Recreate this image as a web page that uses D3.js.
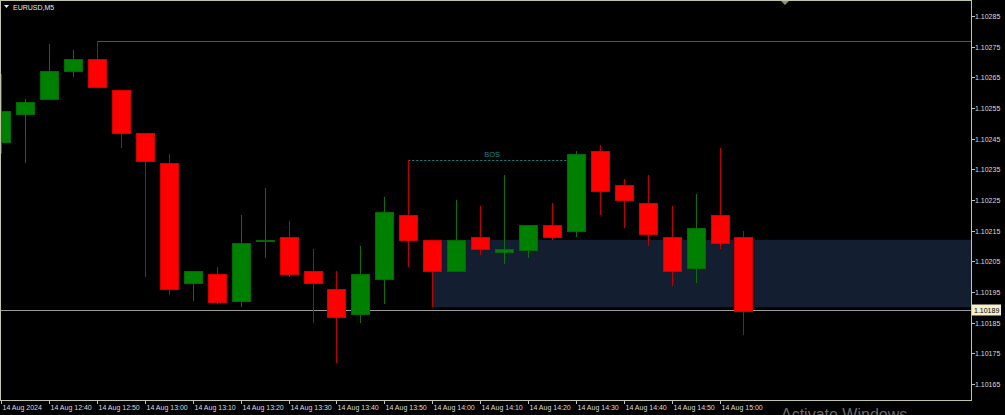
<!DOCTYPE html>
<html><head><meta charset="utf-8">
<script src="https://cdn.jsdelivr.net/npm/d3@7"></script>
<style>
html,body{margin:0;padding:0;background:#000;overflow:hidden}
svg{display:block}
text{font-family:"Liberation Sans",Arial,sans-serif}
</style></head>
<body>
<script>
// ---- data (EURUSD, M5, 14 Aug 2024, from 12:30) ----
const times = ["12:30","12:35","12:40","12:45","12:50","12:55","13:00","13:05","13:10","13:15","13:20","13:25","13:30","13:35","13:40","13:45","13:50","13:55","14:00","14:05","14:10","14:15","14:20","14:25","14:30","14:35","14:40","14:45","14:50","14:55","15:00","15:05"];
const open  = [1.10244,1.10253,1.10258,1.10267,1.10271,1.10261,1.10247,1.10237,1.10198,1.10201,1.10192,1.10212,1.10213,1.10202,1.10196,1.10188,1.10199,1.10220,1.10212,1.10202,1.10213,1.10208,1.10209,1.10217,1.10215,1.10241,1.10230,1.10224,1.10213,1.10203,1.10220,1.10213];
const high  = [1.10266,1.10258,1.10276,1.10274,1.10277,1.10261,1.10247,1.10240,1.10202,1.10203,1.10220,1.10229,1.10218,1.10209,1.10202,1.10210,1.10226,1.10238,1.10212,1.10225,1.10223,1.10233,1.10217,1.10224,1.10241,1.10243,1.10232,1.10233,1.10223,1.10227,1.10242,1.10215];
const low   = [1.10240,1.10237,1.10258,1.10265,1.10262,1.10242,1.10200,1.10194,1.10192,1.10191,1.10190,1.10206,1.10200,1.10185,1.10172,1.10185,1.10191,1.10203,1.10190,1.10202,1.10207,1.10204,1.10206,1.10212,1.10213,1.10220,1.10216,1.10210,1.10197,1.10198,1.10209,1.10181];
const close = [1.10254,1.10257,1.10267,1.10271,1.10262,1.10247,1.10238,1.10196,1.10202,1.10192,1.10211,1.10212,1.10201,1.10198,1.10187,1.10201,1.10221,1.10212,1.10202,1.10212,1.10209,1.10209,1.10217,1.10213,1.10240,1.10228,1.10225,1.10214,1.10202,1.10216,1.10211,1.10189];

const xTickIndex  = [0,2,4,6,8,10,12,14,16,18,20,22,24,26,28,30];
const xTickLabels = ["14 Aug 2024","14 Aug 12:40","14 Aug 12:50","14 Aug 13:00","14 Aug 13:10","14 Aug 13:20","14 Aug 13:30","14 Aug 13:40","14 Aug 13:50","14 Aug 14:00","14 Aug 14:10","14 Aug 14:20","14 Aug 14:30","14 Aug 14:40","14 Aug 14:50","14 Aug 15:00"];
const yTicks = [1.10165,1.10175,1.10185,1.10195,1.10205,1.10215,1.10225,1.10235,1.10245,1.10255,1.10265,1.10275,1.10285];

const currentPrice = 1.10189;
const highLine = {fromIndex:4, price:1.10277};
const bos = {fromIndex:17, toIndex:24, price:1.10238, label:"BOS"};
const zone = {fromIndex:18, top:1.10212, bottom:1.10190};
const symbolTitle = "EURUSD,M5";

// ---- layout ----
const W = 1005, H = 415;
const plotR = 971, plotB = 400;
const x = d3.scaleLinear().domain([0, 30]).range([1.3, 1.3 + 23.94*30]);
const y = d3.scaleLinear().domain([1.10165, 1.10285]).range([384, 16]);
const bodyW = 18;

const svg = d3.select("body").append("svg").attr("width", W).attr("height", H);
svg.append("rect").attr("width", W).attr("height", H).attr("fill", "#000");

const plot = svg.append("g");
const clip = svg.append("clipPath").attr("id","pc").append("rect")
  .attr("x",0).attr("y",0).attr("width",plotR).attr("height",plotB);
plot.attr("clip-path","url(#pc)");

// zone
plot.append("rect")
  .attr("x", x(zone.fromIndex)).attr("y", y(zone.top))
  .attr("width", plotR - x(zone.fromIndex))
  .attr("height", y(zone.bottom) - y(zone.top))
  .attr("fill", "#131e30");

// current price line
plot.append("line").attr("x1",0).attr("x2",plotR)
  .attr("y1", Math.round(y(currentPrice))+0.5).attr("y2", Math.round(y(currentPrice))+0.5)
  .attr("stroke","#9a9a9a").attr("stroke-width",1);

// high line (red)
plot.append("line").attr("x1", Math.round(x(highLine.fromIndex))+0.5).attr("x2", plotR)
  .attr("y1", Math.round(y(highLine.price))+0.5).attr("y2", Math.round(y(highLine.price))+0.5)
  .attr("stroke","#b02a3a").attr("stroke-width",1);

// BOS
plot.append("line").attr("x1", x(bos.fromIndex)).attr("x2", x(bos.toIndex))
  .attr("y1", Math.round(y(bos.price))+0.5).attr("y2", Math.round(y(bos.price))+0.5)
  .attr("stroke","#128c8c").attr("stroke-width",1).attr("stroke-dasharray","2,2");
plot.append("text").attr("x", (x(bos.fromIndex)+x(bos.toIndex))/2).attr("y", Math.round(y(bos.price))-3)
  .attr("text-anchor","middle").attr("font-size","7.5px").attr("fill","#138686").text(bos.label);

// candles
const data = times.map((t,i)=>({i, o:open[i], h:high[i], l:low[i], c:close[i]}));
const cg = plot.append("g").attr("shape-rendering","crispEdges");
cg.selectAll("line.wick").data(data).enter().append("line")
  .attr("x1", d=>Math.round(x(d.i))+0.5).attr("x2", d=>Math.round(x(d.i))+0.5)
  .attr("y1", d=>y(d.h)).attr("y2", d=>y(d.l))
  .attr("stroke", d=>d.c>=d.o ? "#0b6e0b" : "#c00000").attr("stroke-width",1);
cg.selectAll("rect.body").data(data).enter().append("rect")
  .attr("x", d=>Math.round(x(d.i)) - bodyW/2 + 0.5)
  .attr("y", d=>Math.round(y(Math.max(d.o,d.c)))+0.5)
  .attr("width", bodyW)
  .attr("height", d=>Math.max(1, Math.round(Math.abs(y(d.o)-y(d.c)))))
  .attr("fill", d=>d.c>=d.o ? "#008000" : "#ff0000")
  .attr("stroke", d=>d.c>=d.o ? "#006a00" : "#d40000").attr("stroke-width",1);

// frame
const fc = "#c4c4a6";
svg.append("rect").attr("x",0.5).attr("y",0.5).attr("width",plotR).attr("height",plotB)
  .attr("fill","none").attr("stroke",fc).attr("stroke-width",1).attr("shape-rendering","crispEdges");

// y axis
const ya = svg.append("g");
yTicks.forEach(v=>{
  const yy = Math.round(y(v))+0.5;
  ya.append("line").attr("x1",plotR+1).attr("x2",plotR+4).attr("y1",yy).attr("y2",yy).attr("stroke",fc);
  ya.append("text").attr("x",plotR+4).attr("y",yy+2.5).attr("font-size","7px").attr("fill","#dcdcdc").text(d3.format(".5f")(v));
});
// current price label
const cpY = Math.round(y(currentPrice));
svg.append("rect").attr("x",plotR+1).attr("y",cpY-5.5).attr("width",29).attr("height",11)
  .attr("fill","#f4f0cc");
svg.append("text").attr("x",plotR+3).attr("y",cpY+3).attr("font-size","7px").attr("fill","#000").text(d3.format(".5f")(currentPrice));

// x axis
const xa = svg.append("g");
xTickIndex.forEach((k,j)=>{
  const xx = Math.round(x(k))+0.5;
  xa.append("line").attr("x1",xx).attr("x2",xx).attr("y1",plotB).attr("y2",plotB+4).attr("stroke",fc);
  xa.append("text").attr("x",xx+1).attr("y",409.5).attr("font-size","7px").attr("fill","#dcdcdc").text(xTickLabels[j]);
});

// title
svg.append("path").attr("d","M4,5 L9,5 L6.5,8 Z").attr("fill","#e8e8e8");
svg.append("text").attr("x",13).attr("y",10).attr("font-size","7px").attr("fill","#e8e8e8").text(symbolTitle);

// chart shift marker
svg.append("path").attr("d","M781,1 L789,1 L785,5 Z").attr("fill","#8a8a8a");

// watermark
svg.append("text").attr("x",781).attr("y",420).attr("font-family","'Open Sans',sans-serif")
  .attr("font-size","16px").attr("fill","#6a6a6a").text("Activate Windows");
</script>
</body></html>
